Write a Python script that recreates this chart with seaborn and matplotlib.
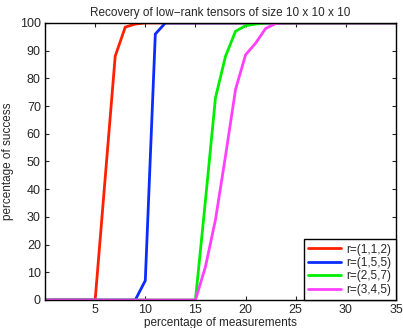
import matplotlib
matplotlib.use('Agg')
import matplotlib.pyplot as plt
import seaborn as sns
import pandas as pd

# percentage of measurements (x axis)
measurements = list(range(0, 36))

# percentage of success for each rank
success_112 = [0, 0, 0, 0, 0, 0, 44, 88, 98.5, 99.6] + [100] * 26
success_155 = [0] * 10 + [7, 96] + [100] * 24
success_257 = [0] * 16 + [36, 73, 88, 97, 99, 99.6] + [100] * 14
success_345 = [0] * 16 + [12, 29, 52, 76, 88.5, 92.7, 98, 99.8] + [100] * 12

labels = ['r=(1,1,2)', 'r=(1,5,5)', 'r=(2,5,7)', 'r=(3,4,5)']
colors = ['#ff2000', '#0a2cff', '#00ee00', '#ff40ff']

rows = []
for lab, vals in zip(labels, [success_112, success_155, success_257, success_345]):
    for m, v in zip(measurements, vals):
        rows.append({'measurements': m, 'success': v, 'rank': lab})
df = pd.DataFrame(rows)

sns.set_style('ticks')
plt.rcParams['font.family'] = ['Liberation Sans', 'DejaVu Sans']

fig = plt.figure(figsize=(4.03, 3.28), dpi=100)
ax = fig.add_axes([0.1117, 0.0854, 0.8709, 0.8446])

sns.lineplot(data=df, x='measurements', y='success', hue='rank',
             palette=dict(zip(labels, colors)), linewidth=2.0, ax=ax)

ax.set_xlim(0, 35)
ax.set_ylim(0, 100)
ax.set_xticks(range(0, 36, 5))
ax.set_xticklabels(['', '5', '10', '15', '20', '25', '30', '35'])
ax.set_yticks(range(0, 101, 10))
ax.tick_params(direction='in', top=True, right=True, labelsize=9, length=3,
               width=0.8, pad=3)
for s in ax.spines.values():
    s.set_visible(True)
    s.set_color('black')
    s.set_linewidth(1.0)

ax.set_title('Recovery of low\u2212rank tensors of size 10 x 10 x 10', fontsize=8.5, pad=5)
ax.set_xlabel('percentage of measurements', fontsize=8.5, labelpad=0.5)
ax.set_ylabel('percentage of success', fontsize=8.5, labelpad=4)

leg = ax.legend(loc='lower right', fontsize=8.5, frameon=True, fancybox=False,
                borderaxespad=0, framealpha=1, edgecolor='black', handlelength=2.8,
                labelspacing=0.12, borderpad=0.35, handletextpad=0.5)
leg.get_frame().set_linewidth(1.0)

fig.savefig('out.png', dpi=100)
